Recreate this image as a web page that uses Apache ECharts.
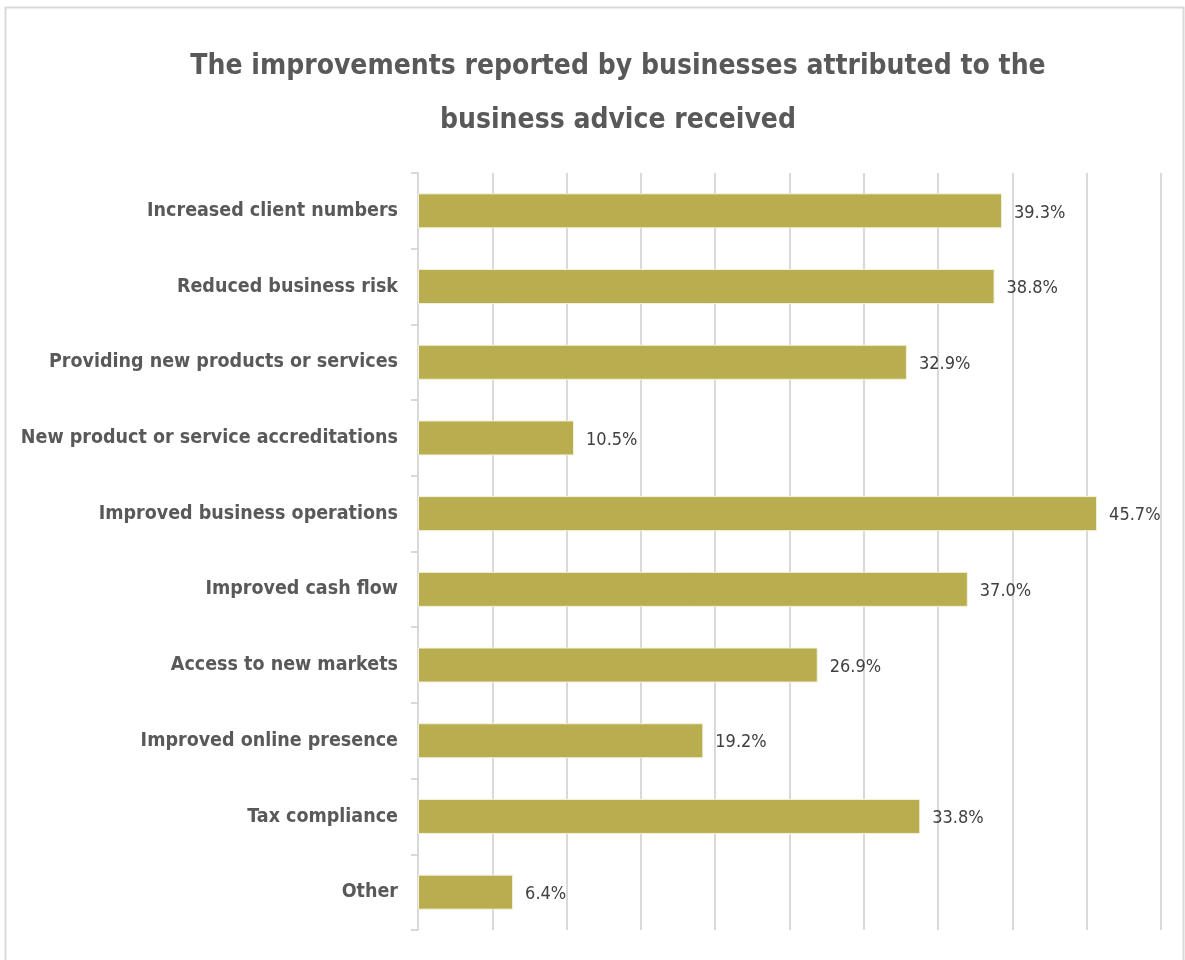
<!DOCTYPE html>
<html>
<head>
<meta charset="utf-8">
<script src="https://cdn.jsdelivr.net/npm/echarts@6/dist/echarts.min.js"></script>
<style>
  html, body { margin: 0; padding: 0; background: #ffffff; }
  #chart { width: 1185px; height: 960px; }
</style>
</head>
<body>
<div id="chart"></div>
<script>
// Improvements attributed to business advice (percent of businesses)
const categories = [
  'Increased client numbers',
  'Reduced business risk',
  'Providing new products or services',
  'New product or service accreditations',
  'Improved business operations',
  'Improved cash flow',
  'Access to new markets',
  'Improved online presence',
  'Tax compliance',
  'Other'
];
const values = [39.3, 38.8, 32.9, 10.5, 45.7, 37.0, 26.9, 19.2, 33.8, 6.4];

const FONT = '"DejaVu Sans Condensed", "Liberation Sans Narrow", sans-serif';

const chart = echarts.init(document.getElementById('chart'), null, { renderer: 'canvas' });

chart.setOption({
  backgroundColor: '#ffffff',
  animation: false,
  title: {
    text: 'The improvements reported by businesses attributed to the\nbusiness advice received',
    left: 613,
    top: 35,
    textAlign: 'center',
    textStyle: {
      fontFamily: FONT,
      fontWeight: 'bold',
      fontSize: 28,
      lineHeight: 54,
      color: '#595959'
    }
  },
  graphic: [{
    type: 'rect',
    shape: { x: 5.5, y: 7.5, width: 1178, height: 970 },
    style: { fill: null, stroke: '#d9d9d9', lineWidth: 2 },
    silent: true,
    z: -1
  }],
  grid: {
    left: 418,
    right: 1185 - 1161,
    top: 173,
    bottom: 960 - 930,
    containLabel: false,
    outerBoundsMode: 'none'
  },
  xAxis: {
    type: 'value',
    min: 0,
    max: 50,
    interval: 5,
    axisLabel: { show: false },
    axisLine: { show: false },
    axisTick: { show: false },
    splitLine: { show: true, lineStyle: { color: '#d9d9d9', width: 2 } }
  },
  yAxis: {
    type: 'category',
    inverse: true,
    data: categories,
    axisLine: { show: true, lineStyle: { color: '#d9d9d9', width: 2 } },
    axisTick: { show: true, length: 7, lineStyle: { color: '#d9d9d9', width: 2 } },
    axisLabel: {
      margin: 20,
      fontFamily: FONT,
      fontWeight: 'bold',
      fontSize: 19.5,
      color: '#595959'
    }
  },
  series: [{
    type: 'bar',
    data: values,
    barWidth: 35,
    itemStyle: { color: '#b8ad4f', borderColor: '#f4f1dc', borderWidth: 1 },
    label: {
      show: true,
      position: 'right',
      distance: 12,
      offset: [0, 2],
      formatter: p => p.value.toFixed(1) + '%',
      fontFamily: FONT,
      fontSize: 18,
      color: '#404040'
    }
  }]
});
</script>
</body>
</html>
